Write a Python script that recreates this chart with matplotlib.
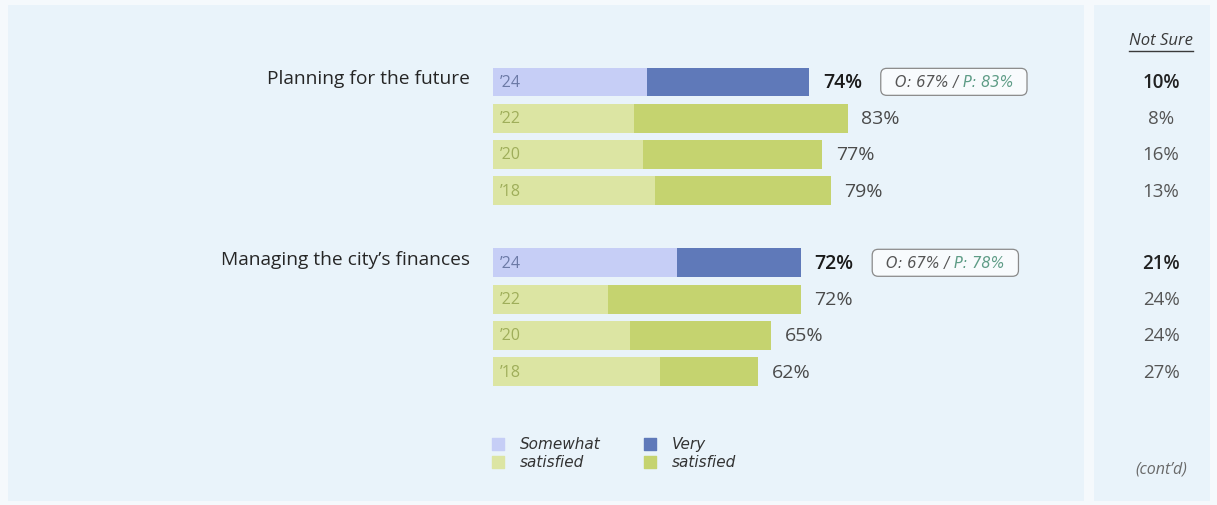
import matplotlib.pyplot as plt
from matplotlib.patches import Rectangle, FancyBboxPatch
from matplotlib.transforms import Bbox, IdentityTransform

# data
groups = ["Planning for the future", "Managing the city’s finances"]
years = ["’24", "’22", "’20", "’18"]
somewhat = [[36, 33, 35, 38], [43, 27, 32, 39]]
very = [[38, 50, 42, 41], [29, 45, 33, 23]]
totals = [[74, 83, 77, 79], [72, 72, 65, 62]]
not_sure = [[10, 8, 16, 13], [21, 24, 24, 27]]
others = ["67%", "67%"]
peers = ["83%", "78%"]

# colours
LAV = "#c6cef6"
BLUE = "#5f79b9"
LGREEN = "#dce5a3"
DGREEN = "#c5d36f"
PANEL = "#e9f3fa"

W, H = 1217, 506
X0, PX = 493, 4.274   # pixel of 0 %, pixels per %
Y0, PY = 83, 36.19    # pixel of first row, pixels per row

plt.rcParams['font.family'] = ['Open Sans', 'DejaVu Sans']

fig = plt.figure(figsize=(W / 100, H / 100), dpi=100)
fig.patch.set_facecolor("#f5f9fc")
fig.add_artist(Rectangle((8 / W, 1 - 502 / H), (1084 - 8) / W, (502 - 6) / H,
                         transform=fig.transFigure, fc=PANEL, ec="none", zorder=-1))
fig.add_artist(Rectangle((1094 / W, 1 - 502 / H), (1210 - 1094) / W, (502 - 6) / H,
                         transform=fig.transFigure, fc=PANEL, ec="none", zorder=-1))

ax = fig.add_axes([0, 0, 1, 1])
ax.set_xlim(-X0 / PX, (W - X0) / PX)
ax.set_ylim((H - Y0) / PY, -Y0 / PY)
ax.axis("off")
ax.patch.set_alpha(0)

col_x = (1161 - X0) / PX
box_texts = []

for g, name in enumerate(groups):
    rows = [g * 5 + i for i in range(len(years))]
    light = [LAV] + [LGREEN] * 3
    dark = [BLUE] + [DGREEN] * 3
    ax.barh(rows, somewhat[g], height=0.8, color=light, zorder=2)
    ax.barh(rows, very[g], left=somewhat[g], height=0.8, color=dark, zorder=2)

    ax.text(-23 / PX, rows[0] - 0.12, name, ha="right", va="center",
            fontsize=13.8, color="#262626")

    for i, r in enumerate(rows):
        current = i == 0
        ax.text(1.7, r, years[i], ha="left", va="center", fontsize=11.5,
                color="#6c7aa6" if current else "#9fae5a", zorder=3)
        ax.text(totals[g][i] + 3.2, r, f"{totals[g][i]}%", ha="left", va="center",
                fontsize=14, color="#1a1a1a" if current else "#4a4a4a",
                fontweight="semibold" if current else "normal")
        ax.text(col_x, r, f"{not_sure[g][i]}%", ha="center", va="center",
                fontsize=13.5, color="#222222" if current else "#555555",
                fontweight="semibold" if current else "normal")

    # comparison note next to the current year
    bx = totals[g][0] + 20.0
    t1 = ax.text(bx, rows[0] + 0.12, f"O: {others[g]} / ", ha="left", va="baseline",
                 fontsize=10.5, style="italic", family="DejaVu Sans",
                 color="#555555", zorder=4)
    t2 = ax.annotate(f"P: {peers[g]}", xy=(1, rows[0] + 0.12), xycoords=(t1, "data"),
                     ha="left", va="baseline", fontsize=10.5, style="italic",
                     family="DejaVu Sans", color="#5e9c86", zorder=4)
    box_texts.append((t1, t2))

# header of the right column
hdr = ax.text(col_x, (41 - Y0) / PY, "Not Sure", ha="center", va="center",
              fontsize=12, style="italic", color="#3a3a3a")
ax.text(col_x, (470 - Y0) / PY, "(cont’d)", ha="center", va="center",
        fontsize=11.5, style="italic", color="#6a6a6a")

# legend
leg_y1, leg_y2 = (445 - Y0) / PY, (463 - Y0) / PY
for sx, tx, c1, c2, t in [(1.2, 6.2, LAV, LGREEN, "Somewhat"),
                          (36.8, 41.8, BLUE, DGREEN, "Very")]:
    ax.scatter([sx], [leg_y1], marker="s", s=64, color=c1, zorder=3)
    ax.scatter([sx], [leg_y2], marker="s", s=64, color=c2, zorder=3)
    ax.text(tx, leg_y1, t, ha="left", va="center", fontsize=11,
            style="italic", family="DejaVu Sans", color="#333333")
    ax.text(tx, leg_y2, "satisfied", ha="left", va="center", fontsize=11,
            style="italic", family="DejaVu Sans", color="#333333")

# rounded boxes and underline sized from the rendered text (pixel coords)
fig.canvas.draw()
rend = fig.canvas.get_renderer()
for t1, t2 in box_texts:
    bb = Bbox.union([t1.get_window_extent(rend), t2.get_window_extent(rend)])
    box = FancyBboxPatch((bb.x0 - 14, bb.y0 - 6), bb.width + 28, bb.height + 12,
                         boxstyle="round,pad=0,rounding_size=6",
                         transform=IdentityTransform(), fc="#f8fbfd",
                         ec="#8a8a8a", lw=0.9, zorder=1.5)
    ax.add_artist(box)
hb = hdr.get_window_extent(rend)
ax.add_artist(plt.Line2D([hb.x0, hb.x1], [hb.y0 - 3] * 2,
                         transform=IdentityTransform(), color="#3a3a3a", lw=1.0))

fig.savefig("out.png", dpi=100, facecolor=fig.get_facecolor())
